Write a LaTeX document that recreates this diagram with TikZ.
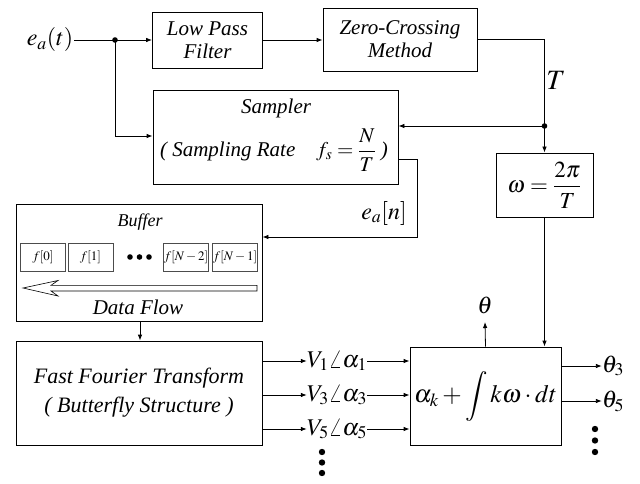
\documentclass[tikz,border=0pt]{standalone}
\usepackage{amsmath}
\usepackage{mathptmx}
\usepackage[no-math]{fontspec}
\setmainfont{Liberation Serif}
\usetikzlibrary{arrows.meta}

\tikzset{
  blk/.style={draw, line width=0.8pt, align=center, inner sep=0pt, font=\itshape\fontsize{21}{23}\selectfont},
  cell/.style={draw=black!70, line width=0.6pt, minimum width=45pt, minimum height=28pt, inner sep=0pt, font=\fontsize{13}{14}\selectfont},
  lbl/.style={inner sep=1pt, font=\fontsize{24}{26}\selectfont},
  txt/.style={inner sep=0pt, font=\itshape\fontsize{21}{23}\selectfont},
  sig/.style={line width=0.8pt, -{Latex[length=6pt,width=4.5pt]}},
  wire/.style={line width=0.8pt},
}

\begin{document}
\begin{tikzpicture}[x=1pt,y=-1pt]
    \useasboundingbox (0,0) rectangle (640,484);

    % Top row: filter and zero crossing
    \node[lbl] (ea) at (50,40) {$e_a(t)$};
    \node[blk, minimum width=110pt, minimum height=56pt] (lpf) at (207.5,40) {Low Pass\\Filter};
    \node[blk, minimum width=154pt, minimum height=63pt] (zc) at (400,39.5) {Zero-Crossing\\Method};
    \coordinate (split) at (115,40);
    \draw[wire] (ea) -- (split);
    \draw[sig] (split) -- (lpf);
    \draw[sig] (lpf) -- (zc.west |- lpf);
    \fill (split) circle (2.8pt);

    % Sampler
    \node[draw, line width=0.8pt, minimum width=245pt, minimum height=94pt, inner sep=0pt] (smp) at (275.5,137) {};
    \node[txt] (smpa) at (276,108) {Sampler};
    \node[txt] (smpb) at (274,150) {( Sampling Rate\quad $f_s=\dfrac{N}{T}$ )};
    \draw[sig] (split) |- (smp.west |- 0,136);

    % Period T and omega
    \node[lbl, font=\fontsize{28}{30}\selectfont] (T) at (556,80) {$T$};
    \node[draw, line width=0.8pt, minimum width=97pt, minimum height=64pt, inner sep=0pt, font=\fontsize{23}{25}\selectfont] (omg) at (544.5,185) {$\omega=\dfrac{2\pi}{T}$};
    \coordinate (tsplit) at (544.5,126);
    \draw[wire] (zc.east) -| (tsplit);
    \draw[sig] (tsplit) -- (omg);
    \draw[sig] (tsplit) -- (smp.east |- tsplit);
    \fill (tsplit) circle (2.8pt);

    % Buffer
    \node[draw, line width=0.8pt, minimum width=246pt, minimum height=117pt, inner sep=0pt] (buf) at (139,262.5) {};
    \node[txt, font=\itshape\fontsize{18}{20}\selectfont] (bufa) at (140,222) {Buffer};
    \node[cell] (c0) at (43,257) {$f[0]$};
    \node[cell] (c1) at (90.5,257) {$f[1]$};
    \node[cell] (c2) at (186,257) {$f[N-2]$};
    \node[cell] (c3) at (235,257) {$f[N-1]$};
    \foreach \x in {130,139.5,149}
        \fill (\x,257) circle (2.8pt);
    \draw[line width=0.6pt] (23,288) -- (58,280.5) -- (51,285.3) -- (257,285.3)
        -- (257,291) -- (51,291) -- (58,296) -- cycle;
    \node[txt] (flow) at (138,307) {Data Flow};

    % Samples into the buffer
    \node[lbl] (ean) at (384,213) {$e_a[n]$};
    \coordinate (sout) at (smp.east |- 0,159);
    \draw[sig] (sout) -- (417,159) |- (buf.east |- 0,237);

    % FFT
    \node[blk, font=\itshape\fontsize{22}{29}\selectfont, minimum width=246pt, minimum height=104pt] (fft) at (139,393) {Fast Fourier Transform\\( Butterfly Structure )};
    \draw[sig] (buf.south -| 140,0) -- (fft.north -| 140,0);

    % Integrator
    \node[draw, line width=0.8pt, minimum width=151pt, minimum height=98pt, inner sep=0pt, font=\fontsize{25}{27}\selectfont] (integ) at (485.5,396) {$\alpha_k+\displaystyle\int k\omega\cdot dt$};
    \draw[sig] (omg.south) -- (integ.north -| omg.south);
    \node[lbl] (th) at (485,305) {$\theta$};
    \draw[sig] (integ.north) -- (485,322);

    % Harmonic phasors
    \foreach \k/\y in {1/361,3/395,5/429} {
        \node[lbl, inner sep=0pt] (v\k) at (337,\y) {$V_{\k}\angle\alpha_{\k}$};
        \draw[sig] (fft.east |- v\k) -- (v\k.west);
        \draw[sig] (v\k.east) -- (integ.west |- v\k);
    }
    \foreach \y in {452,462.5,473}
        \fill (322,\y) circle (3.2pt);

    % Phase outputs
    \foreach \k/\y in {3/366,5/401} {
        \node[lbl, inner sep=0pt] (th\k) at (613,\y) {$\theta_{\k}$};
        \draw[sig] (integ.east |- th\k) -- (th\k.west);
    }
    \foreach \y in {429,440.5,452}
        \fill (595,\y) circle (3.2pt);
\end{tikzpicture}
\end{document}
